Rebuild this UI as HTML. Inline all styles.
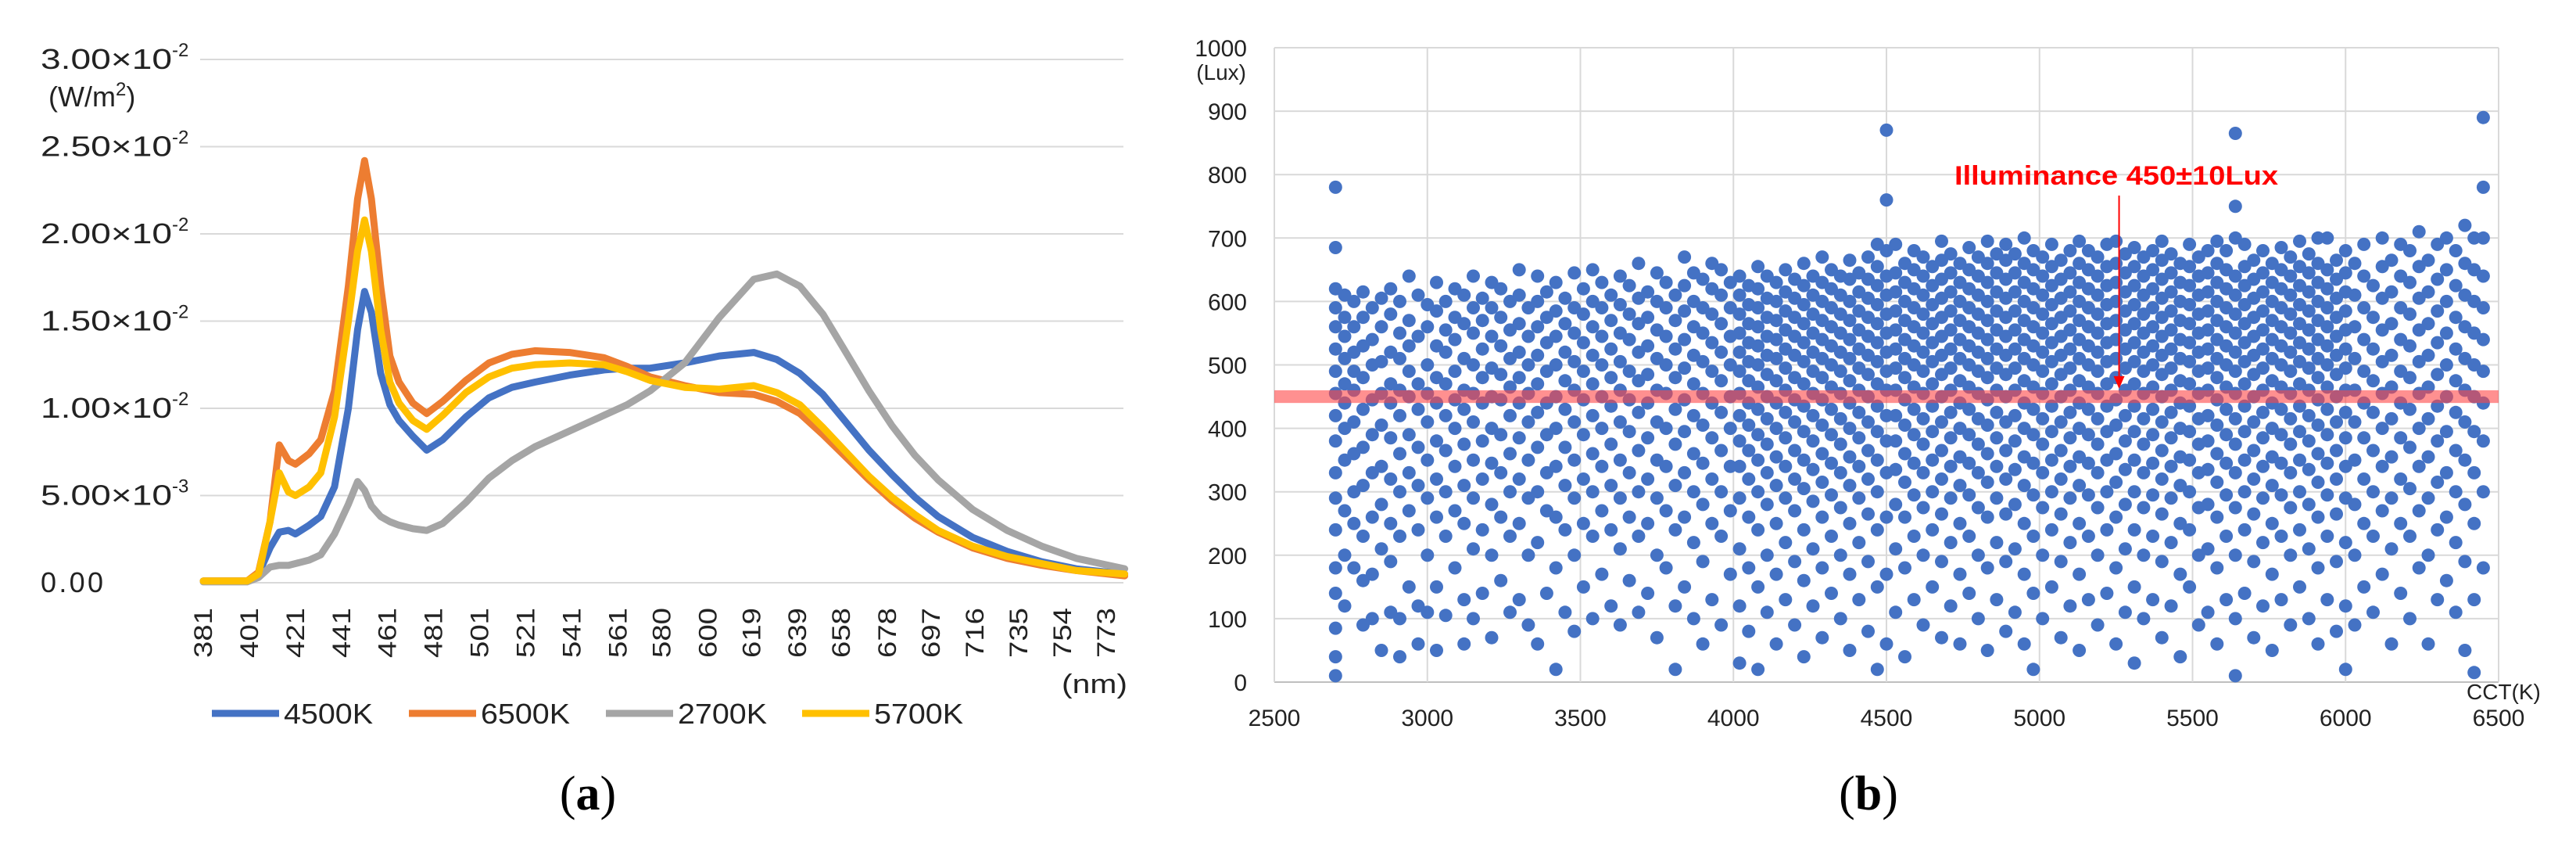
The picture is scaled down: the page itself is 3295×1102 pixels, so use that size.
<!DOCTYPE html>
<html><head><meta charset="utf-8"><style>
html,body{margin:0;padding:0;background:#fff;}
svg{display:block;font-family:"Liberation Sans",sans-serif;}
</style></head><body>
<svg id="fig" width="3295" height="1102" viewBox="0 0 3295 1102" xmlns="http://www.w3.org/2000/svg">
<g id="chartA"></g>
<g id="chartB"></g>
</svg>
<script>
// ---------- Chart (a) data ----------
const wavelengths = [381,400,405,410,414,418,421,427,432,438,444,448,451,454,458,462,466,472,478,485,495,505,515,525,540,555,565,575,590,605,620,630,640,650,660,670,680,690,700,715,730,745,760,781];
const s4500 = [0.1,0.1,0.5,2.0,2.9,3.0,2.8,3.3,3.8,5.5,10,14.5,16.7,15.5,12,10.2,9.3,8.4,7.6,8.2,9.5,10.6,11.2,11.5,11.9,12.2,12.3,12.3,12.6,13.0,13.2,12.8,12.0,10.8,9.2,7.6,6.2,4.9,3.8,2.6,1.8,1.2,0.8,0.5];
const s6500 = [0.1,0.1,0.6,3.5,7.9,7.0,6.8,7.4,8.2,11,17,22,24.2,22,17,13,11.5,10.3,9.7,10.4,11.6,12.6,13.1,13.3,13.2,12.9,12.4,11.8,11.3,10.9,10.8,10.4,9.7,8.5,7.2,5.9,4.7,3.7,2.9,2.0,1.4,1.0,0.7,0.4];
const s2700 = [0.05,0.05,0.3,0.9,1.0,1.0,1.1,1.3,1.6,2.8,4.5,5.8,5.3,4.4,3.8,3.5,3.3,3.1,3.0,3.4,4.6,6.0,7.0,7.8,8.7,9.6,10.2,11.0,12.6,15.2,17.4,17.7,17.0,15.4,13.2,11.0,9.0,7.3,5.9,4.2,3.0,2.1,1.4,0.8];
const s5700 = [0.1,0.1,0.5,3.5,6.3,5.2,5.0,5.5,6.3,9.5,15,19,20.8,19,14.5,11.5,10.3,9.3,8.8,9.6,10.9,11.8,12.3,12.5,12.6,12.5,12.1,11.6,11.2,11.1,11.3,10.9,10.2,8.9,7.5,6.1,4.9,3.9,3.0,2.1,1.5,1.1,0.7,0.5];
const yTicksA = [0,5,10,15,20,25,30];
const yTickLabelsA = ["0.00","5.00\u00d710","1.00\u00d710","1.50\u00d710","2.00\u00d710","2.50\u00d710","3.00\u00d710"];
const yTickExpA = ["","-3","-2","-2","-2","-2","-2"];
const xTickLabelsA = [381,401,421,441,461,481,501,521,541,561,580,600,619,639,658,678,697,716,735,754,773];
const seriesNames = ["4500K","6500K","2700K","5700K"];
const seriesColors = ["#4472c4","#ed7d31","#a5a5a5","#ffc000"];

// ---------- Chart (b) data ----------
const cctColumns = [2700,2730,2760,2790,2820,2850,2880,2910,2940,2970,3000,3030,3060,3090,3120,3150,3180,3210,3240,3270,3300,3330,3360,3390,3420,3450,3480,3510,3540,3570,3600,3630,3660,3690,3720,3750,3780,3810,3840,3870,3900,3930,3960,3990,
4020,4050,4080,4110,4140,4170,4200,4230,4260,4290,4320,4350,4380,4410,4440,4470,4500,4530,4560,4590,4620,4650,4680,4710,4740,4770,4800,4830,4860,4890,4920,4950,4980,
5010,5040,5070,5100,5130,5160,5190,5220,5250,5280,5310,5340,5370,5400,5430,5460,5490,5520,5550,5580,5610,5640,5670,5700,5730,5760,5790,5820,5850,5880,5910,5940,5970,6000,
6030,6060,6090,6120,6150,6180,6210,6240,6270,6300,6330,6360,6390,6420,6450];
const luxByColumn = [
[10,40,85,140,180,240,290,330,380,420,455,490,525,560,590,620,685,780],
[120,200,270,350,400,440,470,510,545,575,610],
[180,250,300,360,410,460,490,520,560,600],
[90,160,230,310,370,430,480,530,575,615],
[100,170,260,330,390,445,500,540,590],
[50,210,280,340,405,455,505,560,605],
[110,190,250,320,385,440,470,520,580,620],
[40,100,230,300,360,420,460,510,550,600],
[150,270,330,390,450,490,530,570,640],
[60,120,240,310,370,430,470,545,610],
[110,200,290,350,410,455,500,560,595],
[50,150,260,320,380,440,480,530,585,630],
[105,230,300,365,420,470,520,555,600],
[180,270,340,400,445,490,540,575,620],
[60,130,250,310,375,430,460,510,565,610],
[100,210,290,350,410,455,500,550,590,640],
[140,240,320,380,440,480,525,570,605],
[70,200,280,345,400,450,495,545,590,630],
[160,260,330,390,445,485,530,575,620],
[110,230,300,360,420,465,510,555,600],
[130,250,320,385,440,480,520,565,610,650],
[90,200,290,350,410,455,500,545,590],
[60,220,300,370,425,470,515,560,600,640],
[140,270,330,390,440,490,535,575,615],
[20,180,260,340,400,450,500,545,585,630],
[110,240,310,370,430,475,520,565,605],
[80,200,290,350,410,460,505,550,590,645],
[150,250,320,390,445,490,535,580,620],
[100,230,300,360,420,470,515,560,600,650],
[170,270,340,400,450,500,545,590,630],
[120,240,310,375,435,480,525,570,610],
[90,210,290,350,410,460,505,550,595,640],
[160,260,330,395,445,490,540,580,625],
[110,230,300,365,425,475,520,565,605,660],
[140,250,320,385,440,485,530,575,615],
[70,200,290,350,410,460,510,555,600,645],
[180,270,340,400,455,500,545,590,630],
[20,120,240,310,375,430,480,525,570,610],
[150,260,330,395,445,495,540,585,625,670],
[100,220,300,360,420,470,515,560,600,645],
[60,190,280,345,405,455,505,550,590,635],
[130,250,320,385,440,490,535,580,620,660],
[90,230,300,365,425,475,520,565,610,650],
[170,270,340,400,450,500,545,590,630],
[30,120,210,290,340,380,420,455,490,520,550,580,610,640],
[80,180,260,320,365,405,440,475,505,535,565,595,625],
[20,150,240,300,350,390,430,465,500,530,560,590,620,655],
[110,200,280,330,375,415,450,485,515,545,575,605,640],
[60,170,250,310,355,400,440,475,510,540,570,600,630],
[130,220,290,340,385,425,460,495,525,555,585,615,650],
[90,190,270,320,365,410,445,480,515,545,575,605,635],
[40,160,240,305,350,395,435,470,505,535,565,595,625,660],
[120,210,285,335,380,420,455,490,520,550,580,610,640],
[70,180,260,315,360,405,445,480,510,540,570,600,630,670],
[140,230,295,345,390,430,465,500,530,560,590,620,650],
[100,200,275,330,375,415,455,490,520,550,580,610,640],
[50,170,250,310,355,400,440,475,510,540,570,600,635,665],
[130,220,290,340,385,425,460,495,525,555,585,615,645],
[80,190,265,320,365,410,450,485,515,545,575,605,635,670],
[20,150,240,300,350,395,435,470,505,535,565,595,625,655,690],
[60,170,260,330,380,420,460,490,520,550,580,610,640,680,760,870],
[110,210,280,335,380,420,460,495,525,555,585,615,645,690],
[40,180,260,315,360,405,445,480,510,540,570,600,630,660],
[130,230,295,345,390,430,465,500,530,560,590,620,650,680],
[90,200,275,330,375,415,455,490,520,550,580,610,640,670],
[150,240,300,350,395,435,470,505,535,565,595,625,655],
[70,190,265,320,365,410,450,485,515,545,575,605,635,665,695],
[120,220,290,340,385,425,460,495,525,555,585,615,645,675],
[60,170,250,310,355,400,440,475,510,540,570,600,630,660],
[140,230,295,345,390,430,465,500,530,560,590,620,650,685],
[100,200,275,330,375,415,455,490,520,550,580,610,640,670],
[50,180,260,315,360,405,445,480,510,540,570,600,630,660,695],
[130,220,290,340,385,425,460,495,525,555,585,615,645,675],
[80,190,265,320,365,410,450,485,515,545,575,605,635,665,690],
[110,210,280,335,380,420,460,495,525,555,585,615,645,675],
[60,170,250,310,355,400,440,475,510,540,570,600,630,660,700],
[20,140,230,295,345,390,430,465,500,530,560,590,620,650,680],
[100,200,275,330,375,415,455,490,520,550,580,610,640,670],
[150,240,300,350,395,435,470,505,535,565,595,625,655,690],
[70,190,265,320,365,410,450,485,515,545,575,605,635,665],
[120,220,290,340,385,425,460,495,525,555,585,615,645,680],
[50,170,250,310,355,400,440,475,510,540,570,600,630,660,695],
[130,230,295,345,390,430,465,500,530,560,590,620,650,680],
[90,200,275,330,375,415,455,490,520,550,580,610,640,670],
[140,240,300,350,395,435,470,505,535,565,595,625,655,690],
[60,180,260,315,360,405,445,480,510,540,570,600,630,660,695],
[110,210,280,335,380,420,460,495,525,555,585,615,645,675],
[30,150,240,300,350,395,435,470,505,535,565,595,625,655,685],
[100,200,275,330,375,415,455,490,520,550,580,610,640,670],
[130,230,295,345,390,430,465,500,530,560,590,620,650,680],
[70,190,265,320,365,410,450,485,515,545,575,605,635,665,695],
[120,220,290,340,385,425,460,495,525,555,585,615,645,675],
[40,170,250,310,355,400,440,475,510,540,570,600,630,660],
[150,240,300,350,395,435,470,505,535,565,595,625,655,690],
[90,200,275,330,375,415,455,490,520,550,580,610,640,670],
[110,210,280,335,380,420,460,495,525,555,585,615,645,680],
[60,180,260,315,360,405,445,480,510,540,570,600,630,660,695],
[130,230,295,345,390,430,465,500,530,560,590,620,650,680],
[10,100,200,275,330,375,415,455,490,520,550,580,610,640,700,750,865],
[140,240,300,350,395,435,470,505,535,565,595,625,655,690],
[70,190,265,320,365,410,450,485,515,545,575,605,635,665],
[120,220,290,340,385,425,460,495,525,555,585,615,645,680],
[50,170,250,310,355,400,440,475,510,540,570,600,630,660],
[130,230,295,345,390,430,465,500,530,560,590,620,650,685],
[90,200,275,330,375,415,455,490,520,550,580,610,640,670],
[150,240,300,350,395,435,470,505,535,565,595,625,655,695],
[100,210,280,335,380,420,460,495,525,555,585,615,645,675],
[60,180,260,315,360,405,445,480,510,540,570,600,630,660,700],
[130,230,295,345,390,430,465,500,530,560,590,620,650,700],
[80,190,265,320,365,410,450,485,515,545,575,605,635,665],
[20,120,220,290,340,385,425,460,495,525,555,585,615,645,680],
[90,200,280,350,410,460,510,560,610,660],
[150,250,320,385,440,490,540,590,640,690],
[110,230,300,365,425,475,525,575,625],
[170,270,340,400,455,505,555,605,655,700],
[60,210,290,355,415,465,515,565,615,665],
[140,250,320,385,440,490,540,590,640,690],
[100,230,305,370,430,480,530,580,630,680],
[180,270,340,400,455,505,555,605,655,710],
[60,200,290,355,415,465,515,565,615,665],
[130,240,315,380,435,485,535,585,635,690],
[160,260,330,395,450,500,550,600,650,700],
[110,220,300,365,425,475,525,575,625,680],
[50,190,280,350,410,460,510,560,610,660,720],
[15,130,250,330,395,450,500,550,600,650,700],
[180,300,380,440,490,540,590,640,700,780,890]
];
const yTicksB = [0,100,200,300,400,500,600,700,800,900,1000];
const xTicksB = [2500,3000,3500,4000,4500,5000,5500,6000,6500];
const targetLux = [440,460];
const annotationText = "Illuminance 450\u00b110Lux";
const annotationCct = 5260;

const NS = "http://www.w3.org/2000/svg";
function mk(parent, tag, attrs, text){
  const el = document.createElementNS(NS, tag);
  for (const k in attrs) el.setAttribute(k, attrs[k]);
  if (text !== undefined) el.textContent = text;
  parent.appendChild(el);
  return el;
}

// ---------- Chart (a) ----------
const A = document.getElementById('chartA');
const ax0 = 256, ax1 = 1437, ay0 = 745, ay1 = 76;
const xA = w => 260 + (w - 381) * (1155 / 392);
const yA = v => ay0 - v / 30 * (ay0 - ay1);
yTicksA.forEach((t, i) => {
  const g = mk(A, 'line', {x1: ax0, x2: ax1, y1: yA(t), y2: yA(t), stroke: '#d9d9d9', 'stroke-width': 2});
  
  
  const lab = mk(A, 'text', {x: 52, y: yA(t) + 12, 'font-size': 36, fill: '#222'});
  
  
  if (i === 0) { lab.textContent = yTickLabelsA[i]; lab.setAttribute('textLength', 80); }
  else {
    mk(lab, 'tspan', {textLength: 168, lengthAdjust: 'spacingAndGlyphs'}, yTickLabelsA[i]);
    mk(lab, 'tspan', {dy: -16, 'font-size': 24}, yTickExpA[i]);
  }
});
const unitA = mk(A, 'text', {x: 62, y: 136, 'font-size': 36, fill: '#222'});


mk(unitA, 'tspan', {}, '(W/m');
mk(unitA, 'tspan', {dy: -14, 'font-size': 24}, '2');
mk(unitA, 'tspan', {dy: 14}, ')');
xTickLabelsA.forEach(w => {
  const x = xA(w);
  const t = mk(A, 'text', {x: 0, y: 0, 'font-size': 32, fill: '#222', 'text-anchor': 'end', 'dominant-baseline': 'central', textLength: 64, lengthAdjust: 'spacingAndGlyphs', transform: `translate(${x},777) rotate(-90)`}, String(w));
  
  
});
const nm = mk(A, 'text', {x: 1358, y: 886, 'font-size': 34, fill: '#222', textLength: 84, lengthAdjust: 'spacingAndGlyphs'}, '(nm)');


const seriesData = [s4500, s6500, s2700, s5700];
const drawOrder = [0, 1, 2, 3];
drawOrder.forEach(si => {
  const d = wavelengths.map((w, i) => (i ? 'L' : 'M') + xA(w).toFixed(1) + ',' + yA(seriesData[si][i]).toFixed(1)).join(' ');
  const p = mk(A, 'path', {d: d, fill: 'none', stroke: seriesColors[si], 'stroke-width': 9, 'stroke-linejoin': 'round', 'stroke-linecap': 'round'});
  
  
});
const legX = [271, 523, 775, 1026];
seriesNames.forEach((n, i) => {
  const g = mk(A, 'g', {});
  
  
  mk(g, 'line', {x1: legX[i], x2: legX[i] + 86, y1: 912, y2: 912, stroke: seriesColors[i], 'stroke-width': 9});
  mk(g, 'text', {x: legX[i] + 92, y: 925, 'font-size': 36, fill: '#222', textLength: 114, lengthAdjust: 'spacingAndGlyphs'}, n);
});
const capA = mk(A, 'text', {x: 752, y: 1035, 'font-size': 62, 'font-family': '"Liberation Serif",serif', 'text-anchor': 'middle', fill: '#000'});


mk(capA, 'tspan', {}, '(');
mk(capA, 'tspan', {'font-weight': 'bold'}, 'a');
mk(capA, 'tspan', {}, ')');

// ---------- Chart (b) ----------
const B = document.getElementById('chartB');
const bx0 = 1630, bx1 = 3196, by0 = 872, by1 = 61;
const xB = c => bx0 + (c - 2500) / 4000 * (bx1 - bx0);
const yB = v => by0 - v / 1000 * (by0 - by1);
yTicksB.forEach(t => {
  const l = mk(B, 'line', {x1: bx0, x2: bx1, y1: yB(t), y2: yB(t), stroke: t === 0 ? '#bfbfbf' : '#d9d9d9', 'stroke-width': 2});
  
  
  const lab = mk(B, 'text', {x: 1595, y: yB(t) + 11, 'font-size': 30, fill: '#222', 'text-anchor': 'end'}, String(t));
  
  
});
xTicksB.forEach(t => {
  const l = mk(B, 'line', {x1: xB(t), x2: xB(t), y1: by1, y2: by0, stroke: '#d9d9d9', 'stroke-width': 2});
  
  
  const lab = mk(B, 'text', {x: xB(t), y: 928, 'font-size': 30, fill: '#222', 'text-anchor': 'middle'}, String(t));
  
  
});
const lux = mk(B, 'text', {x: 1594, y: 102, 'font-size': 28, fill: '#222', 'text-anchor': 'end'}, '(Lux)');


const cctT = mk(B, 'text', {x: 3155, y: 894, 'font-size': 28, fill: '#222'}, 'CCT(K)');


const pts = mk(B, 'g', {fill: '#4472c4'});


cctColumns.forEach((c, ci) => {
  luxByColumn[ci].forEach(v => {
    const dot = mk(pts, 'circle', {cx: xB(c).toFixed(1), cy: yB(v).toFixed(1), r: 8.5});
    
    
  });
});
const band = mk(B, 'rect', {x: bx0, width: bx1 - bx0, y: yB(targetLux[1]), height: yB(targetLux[0]) - yB(targetLux[1]), fill: 'rgba(255,70,70,0.6)'});


const ann = mk(B, 'text', {x: 2500, y: 236, 'font-size': 34, 'font-weight': 'bold', fill: '#ff0000', textLength: 414, lengthAdjust: 'spacingAndGlyphs'}, annotationText);


const ax = xB(annotationCct);
const arr = mk(B, 'line', {x1: ax, x2: ax, y1: 250, y2: yB(465), stroke: '#ff0000', 'stroke-width': 2});


const head = mk(B, 'polygon', {points: `${ax - 7},${yB(465) - 14} ${ax + 7},${yB(465) - 14} ${ax},${yB(465) + 2}`, fill: '#ff0000'});


const capB = mk(B, 'text', {x: 2390, y: 1035, 'font-size': 62, 'font-family': '"Liberation Serif",serif', 'text-anchor': 'middle', fill: '#000'});


mk(capB, 'tspan', {}, '(');
mk(capB, 'tspan', {'font-weight': 'bold'}, 'b');
mk(capB, 'tspan', {}, ')');
</script>
</body></html>
